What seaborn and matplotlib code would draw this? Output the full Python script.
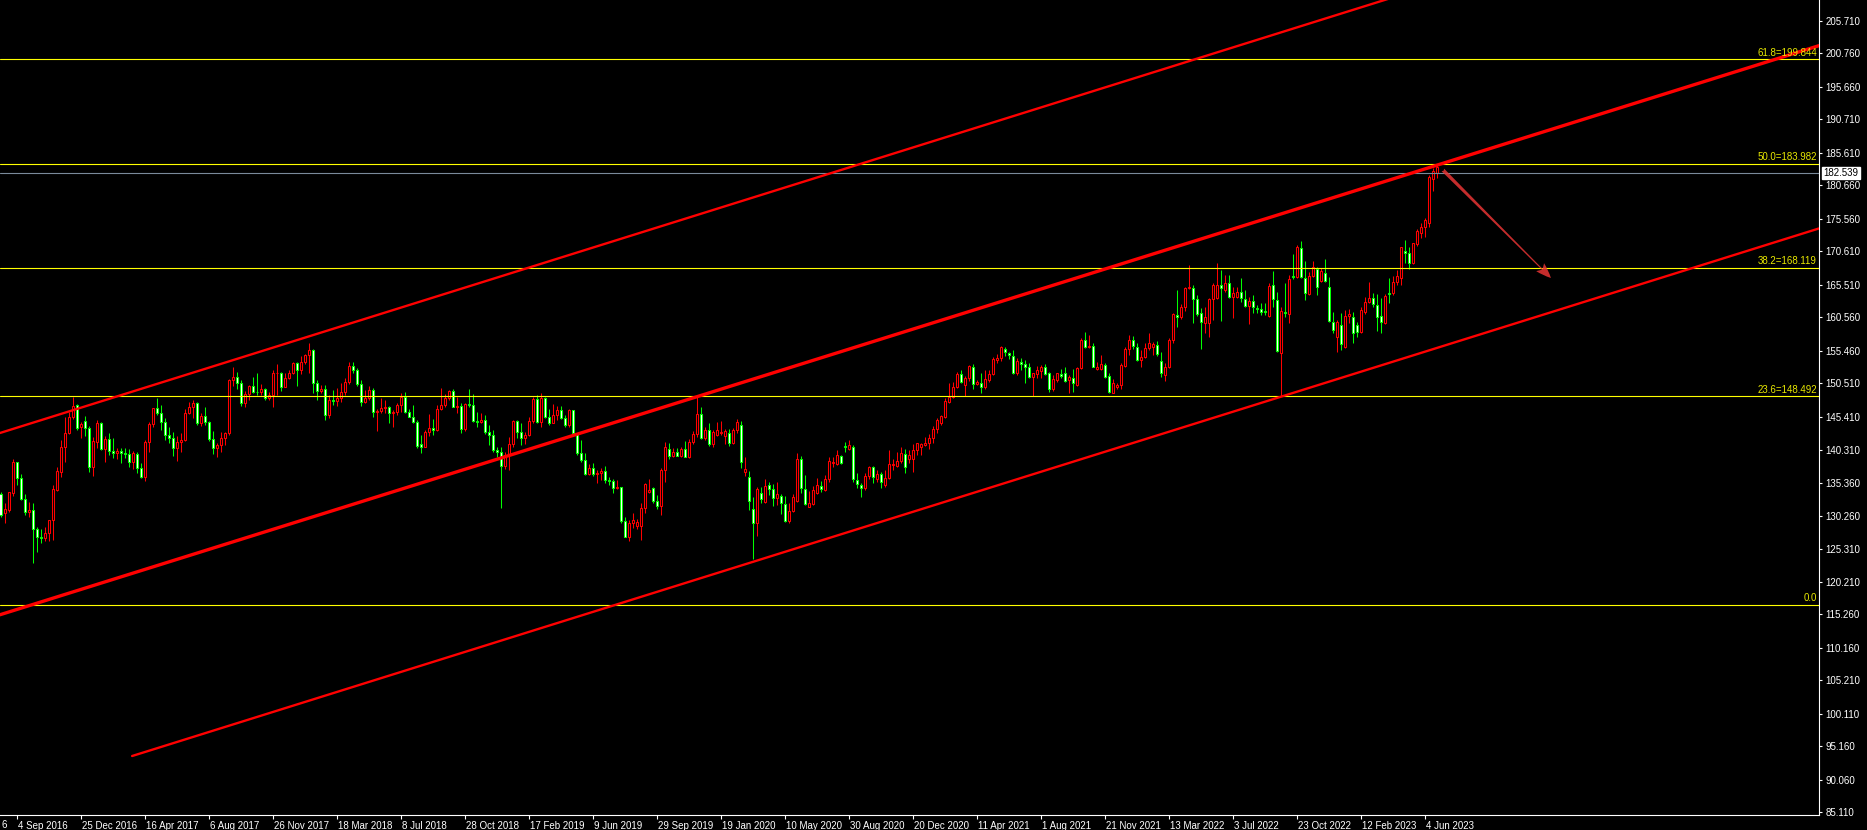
import matplotlib
matplotlib.use("Agg")
import matplotlib.pyplot as plt
import matplotlib.transforms as mtransforms
import numpy as np
import pandas as pd
import seaborn as sns

# weekly bars, first bar = week of 7 Aug 2016, last = 25 Jun 2023
opens = [
    133.57, 130.77, 131.18, 133.72, 138.44, 136.11, 132.85, 130.92, 131.13, 128.23,
    127.01, 126.96, 127.62, 129.60, 134.23, 137.02, 140.73, 142.86, 145.40, 147.13,
    143.88, 144.69, 143.62, 137.78, 141.59, 144.39, 140.42, 141.95, 140.22, 139.81,
    140.22, 139.81, 139.66, 138.54, 139.71, 137.53, 136.26, 141.54, 144.23, 146.67,
    146.01, 144.64, 142.56, 142.10, 140.58, 141.54, 141.85, 146.01, 146.93, 147.43,
    144.39, 145.50, 144.54, 141.95, 140.58, 141.08, 142.10, 142.86, 150.99, 151.40,
    150.48, 147.43, 148.81, 150.13, 149.21, 149.11, 149.57, 148.20, 148.70, 152.01,
    152.06, 149.97, 151.24, 152.11, 153.53, 152.51, 153.68, 154.80, 155.56, 150.48,
    149.26, 149.57, 145.66, 147.94, 147.84, 148.20, 149.21, 150.74, 153.12, 152.51,
    150.33, 147.69, 148.20, 149.47, 146.07, 146.27, 146.68, 146.93, 145.92, 146.17,
    147.19, 148.46, 146.17, 145.41, 144.65, 141.24, 140.84, 143.12, 143.63, 143.38,
    146.53, 147.19, 148.20, 149.32, 146.93, 147.03, 143.48, 147.34, 147.19, 144.80,
    144.65, 144.90, 143.12, 142.61, 140.33, 140.07, 137.94, 139.57, 141.24, 144.75,
    143.12, 142.11, 142.61, 144.75, 148.10, 144.65, 148.30, 145.31, 144.39, 145.66,
    146.42, 145.26, 144.14, 146.42, 142.87, 139.92, 138.80, 136.67, 137.64, 136.67,
    136.87, 137.18, 135.76, 135.60, 134.59, 134.74, 129.56, 127.12, 129.25, 128.80,
    128.80, 131.44, 133.98, 134.49, 132.61, 131.84, 137.28, 140.43, 139.41, 140.07,
    139.46, 140.43, 139.31, 141.60, 142.77, 145.81, 142.21, 143.38, 141.24, 142.61,
    142.87, 142.46, 142.97, 141.45, 143.38, 144.14, 137.02, 136.16, 131.28, 129.15,
    133.72, 132.45, 134.99, 134.33, 132.96, 133.32, 132.05, 129.56, 131.03, 132.60,
    138.95, 134.33, 131.69, 132.05, 133.82, 134.84, 134.23, 135.86, 138.29, 138.14,
    139.41, 140.94, 140.48, 140.73, 135.76, 134.99, 134.49, 136.37, 137.79, 135.86,
    136.67, 134.99, 136.01, 138.04, 137.89, 138.65, 139.72, 138.91, 138.91, 140.33,
    140.84, 141.09, 141.34, 142.11, 143.53, 144.49, 145.31, 147.69, 148.46, 149.98,
    151.86, 150.23, 151.25, 152.93, 150.39, 150.49, 149.88, 151.00, 151.86, 154.04,
    154.30, 155.67, 155.06, 154.65, 152.01, 153.69, 153.43, 153.03, 151.50, 151.86,
    152.42, 153.03, 152.01, 149.57, 151.00, 151.86, 152.01, 151.00, 151.25, 150.23,
    152.88, 157.09, 155.97, 156.18, 152.62, 152.67, 153.28, 151.61, 149.07, 149.88,
    150.24, 153.13, 155.67, 157.09, 156.08, 154.05, 154.45, 155.82, 156.08, 156.33,
    153.94, 151.76, 153.03, 157.09, 160.90, 160.65, 162.17, 164.97, 165.07, 163.29,
    161.16, 159.74, 159.63, 163.29, 163.44, 165.48, 164.71, 165.73, 163.60, 163.70,
    164.46, 163.29, 162.28, 163.04, 161.97, 161.77, 161.46, 160.80, 165.48, 163.19,
    155.06, 161.41, 161.06, 166.85, 166.75, 171.06, 166.49, 164.10, 166.85, 167.96,
    166.14, 167.25, 165.22, 159.89, 157.60, 159.38, 155.98, 160.75, 160.55, 159.38,
    158.36, 161.41, 162.94, 163.44, 162.43, 160.75, 159.74, 164.31, 164.21, 165.98,
    166.49, 170.71, 170.30, 168.88, 171.72, 173.45, 174.26, 174.98, 181.58, 182.49,
]
highs = [
    133.97, 132.19, 133.97, 138.90, 138.54, 136.66, 133.62, 132.45, 132.19, 128.64,
    128.23, 128.54, 129.65, 134.99, 137.78, 141.85, 145.30, 146.16, 148.45, 147.33,
    144.64, 145.50, 143.98, 142.35, 144.89, 144.64, 142.46, 142.86, 142.20, 140.68,
    140.68, 140.58, 140.42, 140.17, 139.97, 138.29, 141.85, 144.64, 146.77, 148.20,
    147.13, 145.15, 143.88, 143.12, 142.46, 142.96, 146.52, 147.69, 147.89, 147.69,
    145.91, 146.82, 144.79, 143.22, 141.44, 143.12, 143.12, 151.09, 152.92, 152.26,
    150.99, 149.31, 150.23, 151.50, 152.11, 150.33, 149.72, 149.21, 152.51, 153.43,
    152.26, 152.01, 152.51, 153.78, 153.78, 154.65, 155.00, 156.58, 155.66, 150.99,
    150.23, 150.23, 148.70, 149.47, 149.72, 150.58, 151.24, 153.78, 153.78, 152.77,
    150.99, 149.47, 150.08, 149.73, 146.53, 148.20, 147.95, 147.03, 146.42, 147.44,
    148.96, 149.22, 146.53, 147.19, 144.90, 142.61, 143.38, 145.81, 145.05, 147.19,
    149.73, 148.86, 149.47, 149.57, 148.35, 147.44, 147.54, 149.62, 148.86, 146.17,
    145.92, 145.66, 144.14, 143.38, 140.84, 140.84, 140.07, 142.36, 144.90, 144.90,
    144.39, 143.12, 145.41, 148.46, 148.71, 148.96, 148.46, 146.53, 147.34, 147.03,
    147.03, 145.66, 146.53, 146.42, 142.87, 141.85, 139.82, 138.19, 138.30, 137.28,
    137.53, 137.89, 136.26, 135.86, 135.76, 134.74, 130.17, 129.66, 130.68, 129.76,
    132.20, 135.25, 135.96, 134.74, 133.47, 137.53, 141.60, 141.34, 140.58, 140.58,
    140.73, 141.75, 141.95, 143.27, 148.46, 146.93, 143.88, 144.49, 143.38, 144.65,
    144.80, 143.48, 143.48, 143.63, 145.05, 144.80, 139.21, 137.18, 133.11, 134.74,
    134.64, 135.86, 135.50, 135.14, 135.50, 133.62, 133.32, 132.20, 133.62, 139.82,
    139.41, 136.52, 134.13, 134.84, 136.01, 135.65, 136.52, 139.21, 139.31, 140.33,
    139.56, 141.60, 141.85, 141.09, 136.77, 135.25, 136.77, 137.89, 137.89, 137.28,
    137.03, 137.28, 140.33, 138.91, 140.07, 140.73, 140.43, 140.33, 141.24, 141.45,
    141.45, 142.36, 142.77, 143.99, 145.15, 145.66, 148.20, 150.49, 150.74, 152.27,
    152.52, 151.61, 153.28, 153.43, 151.00, 152.11, 152.52, 152.52, 154.45, 154.96,
    156.18, 156.08, 155.31, 155.57, 154.30, 154.30, 154.04, 153.54, 152.11, 153.13,
    153.28, 153.38, 152.27, 151.76, 152.11, 152.62, 152.93, 151.76, 152.67, 153.03,
    157.35, 158.36, 157.85, 156.58, 153.79, 154.81, 153.54, 152.01, 151.10, 150.49,
    153.54, 155.98, 157.86, 157.70, 156.59, 155.57, 156.59, 158.21, 156.84, 156.99,
    155.32, 153.54, 157.35, 161.26, 164.71, 162.58, 165.12, 168.52, 165.48, 163.95,
    161.92, 162.07, 163.44, 165.73, 168.78, 167.76, 167.00, 167.00, 165.22, 165.22,
    166.49, 164.71, 163.70, 163.95, 162.43, 162.68, 162.78, 165.73, 167.66, 164.46,
    162.17, 165.73, 167.00, 170.20, 171.57, 172.18, 169.13, 167.51, 169.18, 168.27,
    168.02, 169.39, 166.75, 161.41, 160.14, 161.26, 161.67, 161.77, 161.41, 159.89,
    162.17, 163.70, 165.98, 164.21, 164.10, 163.44, 164.10, 166.49, 166.85, 167.76,
    171.32, 172.33, 171.22, 171.93, 173.96, 174.87, 175.64, 182.24, 183.26, 183.98,
]
lows = [
    130.16, 129.15, 130.92, 133.36, 134.99, 132.70, 130.42, 130.16, 123.15, 124.83,
    126.10, 126.50, 126.50, 126.61, 134.07, 136.26, 138.54, 142.76, 144.99, 143.37,
    142.20, 142.51, 137.02, 136.41, 140.58, 140.32, 138.54, 139.56, 139.05, 138.95,
    138.39, 139.05, 137.78, 137.37, 136.77, 136.11, 135.65, 140.07, 143.77, 145.66,
    143.37, 141.85, 141.34, 139.41, 138.70, 139.97, 141.69, 145.81, 145.25, 144.13,
    143.98, 144.13, 141.69, 139.76, 139.31, 140.07, 141.08, 142.61, 150.08, 149.57,
    147.03, 146.93, 147.94, 148.96, 148.70, 148.70, 147.94, 147.94, 146.93, 148.70,
    149.36, 149.87, 151.14, 151.85, 150.08, 151.90, 153.40, 152.00, 148.96, 147.94,
    148.96, 144.89, 145.15, 147.18, 147.03, 147.69, 148.70, 150.38, 152.00, 150.08,
    147.03, 147.54, 147.94, 145.31, 143.27, 145.92, 145.92, 144.39, 143.78, 145.66,
    146.17, 145.92, 145.31, 144.39, 140.68, 139.92, 140.73, 142.51, 142.61, 143.27,
    146.42, 146.93, 147.95, 146.83, 145.92, 142.87, 143.27, 146.83, 144.65, 143.88,
    144.39, 142.77, 141.09, 140.07, 139.21, 131.54, 137.43, 137.28, 140.73, 142.11,
    141.09, 141.24, 142.46, 144.39, 144.49, 143.78, 145.26, 144.14, 144.39, 144.90,
    145.05, 143.78, 143.88, 142.61, 139.57, 138.55, 136.52, 136.52, 136.37, 135.35,
    135.76, 135.25, 135.00, 133.83, 134.33, 129.15, 127.02, 126.51, 128.39, 128.24,
    126.61, 130.78, 133.72, 132.20, 131.29, 130.42, 135.50, 138.91, 139.31, 139.41,
    139.31, 139.21, 139.10, 141.24, 142.36, 141.95, 141.85, 140.94, 140.84, 142.46,
    142.61, 141.24, 140.94, 141.24, 142.87, 137.53, 136.41, 131.18, 123.66, 127.27,
    132.20, 132.30, 133.47, 131.79, 131.94, 130.57, 129.40, 129.25, 130.93, 132.45,
    133.82, 131.94, 131.59, 131.94, 133.62, 133.98, 134.13, 135.50, 137.79, 138.04,
    138.19, 140.07, 140.33, 135.50, 134.49, 133.22, 134.23, 135.86, 135.35, 135.50,
    134.49, 134.74, 135.86, 137.28, 137.79, 138.30, 136.77, 138.30, 137.03, 139.57,
    139.57, 140.94, 140.43, 141.34, 142.87, 144.14, 145.15, 147.44, 148.20, 149.73,
    150.49, 148.56, 150.89, 149.57, 150.23, 149.07, 149.57, 150.74, 151.76, 153.54,
    153.94, 154.65, 154.15, 151.91, 151.76, 152.52, 150.59, 151.25, 148.56, 151.25,
    151.25, 151.76, 149.22, 149.37, 150.74, 151.25, 150.74, 148.96, 149.22, 150.08,
    152.72, 155.82, 155.82, 152.93, 152.52, 152.52, 151.25, 148.96, 148.97, 149.58,
    149.58, 153.03, 154.81, 155.67, 153.94, 152.93, 154.30, 155.57, 154.81, 154.66,
    151.51, 150.90, 152.78, 156.69, 159.02, 160.24, 161.56, 164.82, 159.63, 160.75,
    155.67, 158.21, 157.60, 160.14, 163.29, 160.04, 164.46, 163.44, 160.40, 163.44,
    162.94, 162.17, 159.53, 161.26, 161.16, 160.90, 160.90, 160.65, 162.17, 155.32,
    148.56, 160.65, 159.74, 166.34, 166.49, 166.49, 163.19, 163.95, 166.75, 163.95,
    165.98, 165.98, 159.89, 158.11, 155.32, 155.57, 155.82, 159.63, 156.59, 157.50,
    158.21, 161.06, 162.68, 162.17, 158.52, 158.21, 159.53, 162.78, 163.95, 165.48,
    165.48, 168.88, 167.86, 168.68, 171.42, 172.59, 172.74, 174.37, 179.85, 181.73,
]
closes = [
    130.42, 131.33, 133.87, 138.44, 136.11, 132.85, 130.92, 131.13, 128.23, 127.01,
    126.91, 127.62, 129.60, 134.33, 137.12, 140.73, 142.86, 145.40, 147.03, 143.73,
    144.23, 143.62, 137.78, 141.69, 144.39, 140.42, 141.95, 140.22, 139.81, 140.22,
    139.81, 139.66, 138.54, 139.81, 137.53, 136.26, 141.54, 144.23, 146.67, 146.01,
    144.64, 142.56, 142.10, 140.58, 141.54, 141.85, 146.01, 146.93, 147.43, 144.39,
    145.50, 144.54, 141.95, 140.58, 141.08, 142.10, 142.86, 150.99, 151.40, 150.48,
    147.43, 148.81, 150.13, 149.21, 149.11, 149.57, 148.20, 148.70, 152.01, 152.06,
    149.97, 151.24, 152.11, 153.53, 152.51, 153.68, 154.80, 155.56, 150.48, 149.36,
    149.57, 145.66, 147.94, 147.84, 148.20, 149.21, 150.74, 153.12, 152.51, 150.33,
    147.69, 148.20, 149.47, 146.17, 146.27, 146.68, 146.93, 145.92, 146.17, 147.19,
    148.46, 146.17, 145.41, 144.65, 140.94, 140.84, 143.12, 143.63, 143.38, 146.53,
    147.19, 148.20, 149.32, 146.93, 147.03, 143.48, 147.34, 147.19, 144.80, 144.65,
    144.90, 143.12, 142.61, 140.33, 140.07, 137.94, 139.57, 141.24, 144.75, 143.12,
    142.11, 142.61, 144.75, 148.10, 144.65, 148.30, 145.31, 144.39, 145.66, 146.42,
    145.26, 144.14, 146.42, 142.87, 139.92, 138.80, 136.67, 137.64, 136.67, 136.87,
    137.18, 135.76, 135.60, 134.59, 134.74, 129.56, 127.12, 129.25, 129.66, 129.36,
    131.44, 135.15, 134.23, 132.61, 131.84, 137.28, 140.73, 139.41, 140.07, 139.46,
    140.43, 139.31, 141.60, 142.77, 145.81, 142.21, 143.38, 141.24, 143.12, 143.38,
    143.12, 143.22, 141.45, 143.38, 144.65, 138.55, 137.43, 132.60, 129.15, 134.33,
    132.81, 134.84, 134.33, 132.96, 133.57, 132.30, 129.56, 131.03, 133.11, 138.95,
    134.59, 132.05, 132.20, 134.23, 134.99, 134.38, 135.86, 138.65, 138.55, 139.56,
    138.40, 140.73, 141.09, 135.86, 135.15, 134.49, 136.37, 137.79, 136.26, 136.67,
    135.50, 136.01, 138.14, 138.14, 138.65, 139.92, 137.69, 139.57, 140.33, 141.34,
    141.24, 141.34, 142.11, 143.53, 144.90, 145.51, 147.80, 148.46, 149.98, 151.86,
    150.74, 151.25, 153.13, 150.34, 150.74, 149.88, 151.10, 151.86, 154.20, 154.30,
    156.08, 155.21, 154.76, 152.11, 153.94, 153.43, 153.03, 151.50, 152.01, 152.52,
    152.93, 151.91, 149.57, 151.10, 152.01, 151.66, 150.89, 151.40, 150.49, 152.88,
    157.09, 155.97, 156.18, 153.03, 152.93, 153.43, 151.40, 149.22, 150.49, 150.24,
    153.28, 155.67, 157.09, 156.18, 154.05, 154.45, 155.82, 156.59, 156.48, 154.96,
    152.01, 153.03, 157.09, 161.06, 160.65, 162.17, 164.97, 165.22, 163.29, 161.06,
    159.89, 160.65, 163.29, 165.48, 165.48, 164.97, 165.83, 163.60, 164.21, 164.46,
    163.44, 162.28, 163.09, 162.07, 161.82, 161.41, 161.31, 165.32, 163.29, 155.47,
    161.56, 161.16, 166.34, 166.64, 171.32, 166.75, 164.21, 166.85, 168.27, 165.12,
    167.66, 166.14, 160.04, 158.62, 159.89, 156.48, 160.75, 161.06, 158.11, 158.36,
    161.67, 162.94, 163.55, 162.58, 160.55, 159.89, 163.80, 164.10, 165.98, 166.90,
    171.22, 170.30, 168.88, 171.83, 173.76, 174.26, 175.38, 181.99, 182.90, 183.41,
]

date_labels = [
    "4 Sep 2016", "25 Dec 2016", "16 Apr 2017", "6 Aug 2017", "26 Nov 2017",
    "18 Mar 2018", "8 Jul 2018", "28 Oct 2018", "17 Feb 2019", "9 Jun 2019",
    "29 Sep 2019", "19 Jan 2020", "10 May 2020", "30 Aug 2020", "20 Dec 2020",
    "11 Apr 2021", "1 Aug 2021", "21 Nov 2021", "13 Mar 2022", "3 Jul 2022",
    "23 Oct 2022", "12 Feb 2023", "4 Jun 2023",
]
first_label_bar = 4
label_every = 16

price_ticks = [205.710, 200.760, 195.660, 190.710, 185.610, 180.660, 175.560,
               170.610, 165.510, 160.560, 155.460, 150.510, 145.410, 140.310,
               135.360, 130.260, 125.310, 120.210, 115.260, 110.160, 105.210,
               100.110, 95.160, 90.060, 85.110]

fib_pct = ["0.0", "23.6", "38.2", "50.0", "61.8"]
fib_price = [116.767, 148.492, 168.119, 183.982, 199.844]
bid = 182.539

# channel lines as (bar, price) pairs
chan_upper = [(-0.125, 142.92), (454.6, 229.61)]
chan_mid = [(-0.125, 115.22), (454.6, 201.95)]
chan_low = [(32.9, 93.69), (454.6, 174.09)]
arrow_start = (360.1, 183.31)
arrow_end = (388.1, 166.24)

sns.set_theme(style="dark", rc={"axes.facecolor": "black", "figure.facecolor": "black",
                                "axes.grid": False})
plt.rcParams["font.family"] = ["Liberation Sans", "DejaVu Sans"]

df = pd.DataFrame({"o": opens, "h": highs, "l": lows, "c": closes})
df["bar"] = np.arange(len(df))
up = df.c >= df.o

fig = plt.figure(figsize=(18.67, 8.30), dpi=100)
ax = fig.add_axes([0, 15 / 830, 1819 / 1867, 815 / 830])
ax.set_facecolor("black")

red = "#ff0000"
green = "#00ff00"
edge = np.where(up, red, green)
face = np.where(up, "black", "white")

ax.vlines(df.bar, df.l, df.h, colors=edge, linewidth=0.75, zorder=2)
body = np.maximum((df.c - df.o).abs(), 0.08)
ax.bar(df.bar, body, bottom=np.minimum(df.o, df.c), width=0.5, color=face,
       edgecolor=edge, linewidth=0.75, zorder=3)

for lvl, p in zip(fib_pct, fib_price):
    ax.axhline(p, color="#ffff00", lw=0.8, zorder=4)
    txt = lvl if lvl == "0.0" else f"{lvl}={p:.3f}"
    ax.annotate(txt, xy=(1, p), xycoords=("axes fraction", "data"),
                xytext=(-1.5, 1.2), textcoords="offset points",
                ha="right", va="bottom", color="#e8e800", fontsize=7, zorder=6)

ax.axhline(bid, color="#7a8a9a", lw=0.8, zorder=4)

for seg, w in [(chan_upper, 1.7), (chan_mid, 2.4), (chan_low, 1.7)]:
    sns.lineplot(x=[seg[0][0], seg[1][0]], y=[seg[0][1], seg[1][1]], ax=ax,
                 color=red, lw=w, zorder=5)

ax.annotate("", xy=arrow_end, xytext=arrow_start,
            arrowprops=dict(arrowstyle="fancy,head_length=0.55,head_width=0.4,tail_width=0.13",
                            color="#e83535", lw=0, mutation_scale=20, alpha=0.85),
            zorder=6)

ax.set_xlim(-0.125, 454.625)
ax.set_ylim(84.70, 208.91)

for s in ["left", "top"]:
    ax.spines[s].set_visible(False)
for s in ["right", "bottom"]:
    ax.spines[s].set_visible(True)
    ax.spines[s].set_color("white")
    ax.spines[s].set_linewidth(0.8)

ax.yaxis.tick_right()
ax.set_yticks(price_ticks)
ax.set_yticklabels([f"{v:.3f}" for v in price_ticks])
ax.tick_params(axis="y", colors="white", length=2.5, width=0.8, pad=2,
               labelsize=7, direction="out", right=True, left=False)

xt = [first_label_bar + label_every * i for i in range(len(date_labels))]
ax.set_xticks(xt)
ax.set_xticklabels(date_labels)
ax.tick_params(axis="x", colors="white", length=3, width=0.8, pad=1.5,
               labelsize=7, direction="out", bottom=True)
shift = mtransforms.ScaledTranslation(1.5 / 100, 0, fig.dpi_scale_trans)
for lab in ax.get_xticklabels():
    lab.set_ha("left")
    lab.set_transform(lab.get_transform() + shift)
ax.set_xlabel("")
ax.set_ylabel("")
ax.grid(False)

fig.text(1 / 1867, 10 / 830, "6", color="white", fontsize=7, ha="left", va="top")

ax.text(1.0025, bid, f"{bid:.3f}", transform=ax.get_yaxis_transform(),
        ha="left", va="center", color="black", fontsize=7, zorder=7,
        bbox=dict(boxstyle="square,pad=0.15", facecolor="white", edgecolor="white"),
        clip_on=False)

fig.savefig("out.png", dpi=100, facecolor="black")
